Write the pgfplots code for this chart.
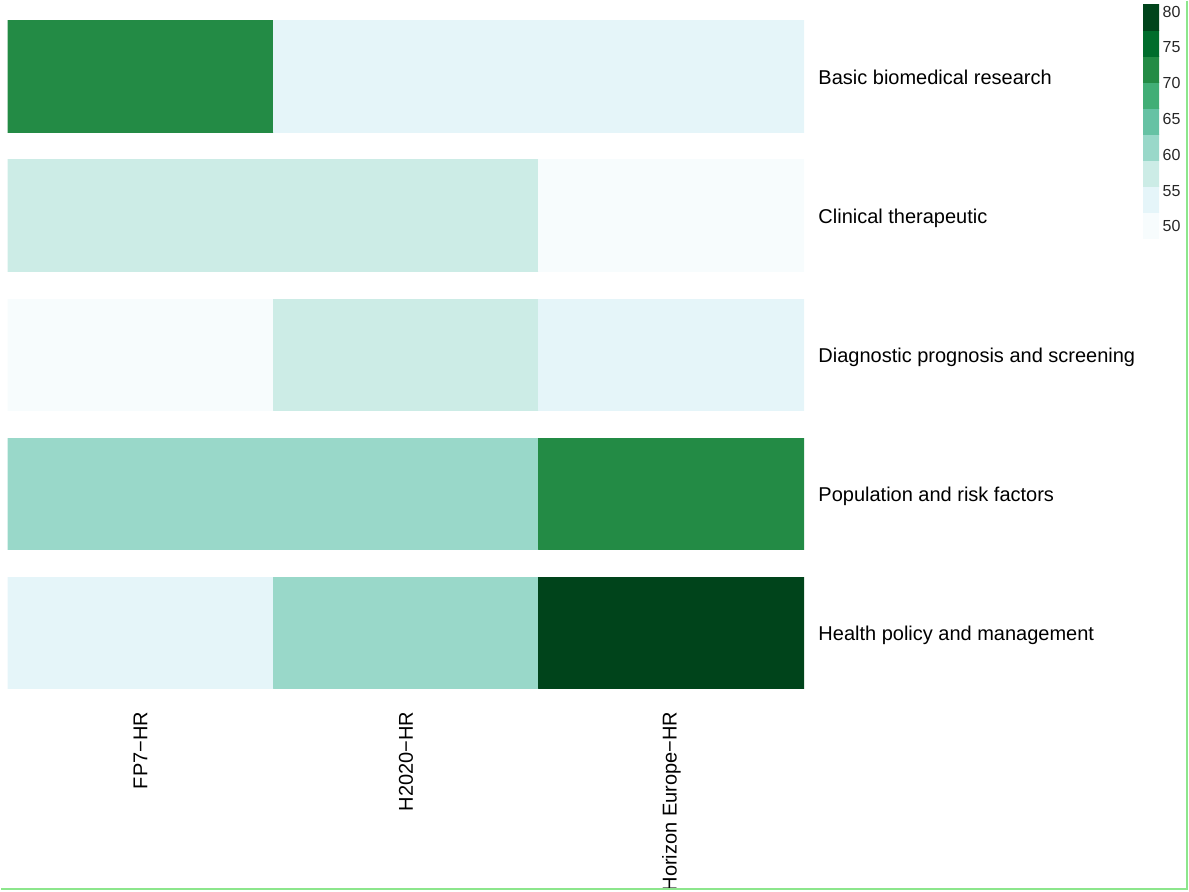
\documentclass[border=0pt]{standalone}
\usepackage{pgfplots}
\pgfplotsset{compat=1.18}
\usepackage{fontspec}
\setmainfont{Liberation Sans}
\pgfplotsset{
  colormap={bugn}{rgb255=(247,252,253) rgb255=(229,245,249) rgb255=(204,236,230) rgb255=(153,216,201) rgb255=(102,194,164) rgb255=(65,174,118) rgb255=(35,139,69) rgb255=(0,109,44) rgb255=(0,68,27)},
}
\begin{document}
\begin{tikzpicture}
\begin{axis}[name=main,
  width=597.75pt, height=501pt, scale only axis,
  xmin=0, xmax=3, ymin=0.1, ymax=4.9, y dir=reverse,
  axis line style={draw=none}, major tick length=0pt,
  xtick={0.5,1.5,2.5},
  xticklabels={FP7−HR, H2020−HR, Horizon Europe−HR},
  ytick={0.5,1.5,2.5,3.5,4.5},
  yticklabels={Basic biomedical research, Clinical therapeutic, Diagnostic prognosis and screening, Population and risk factors, Health policy and management},
  yticklabel pos=right,
  tick label style={font=\fontsize{15}{17}\selectfont, text=black},
  xticklabel style={rotate=90, anchor=east, inner sep=0pt},
  yticklabel style={anchor=west, inner sep=0pt, text height=10.9pt, text depth=0pt, yshift=-0.8pt},
  xticklabel shift=17.5pt,
  yticklabel shift=10.5pt,
  colormap name=bugn, colormap access=piecewise constant,
  point meta min=48.3, point meta max=81,
]
\addplot[patch, patch type=rectangle, shader=flat, point meta=explicit] table[meta=c] {
x y c
0 0.1 72
1 0.1 72
1 0.9 72
0 0.9 72
1 0.1 54
2 0.1 54
2 0.9 54
1 0.9 54
2 0.1 54
3 0.1 54
3 0.9 54
2 0.9 54
0 1.1 57
1 1.1 57
1 1.9 57
0 1.9 57
1 1.1 57
2 1.1 57
2 1.9 57
1 1.9 57
2 1.1 50
3 1.1 50
3 1.9 50
2 1.9 50
0 2.1 50
1 2.1 50
1 2.9 50
0 2.9 50
1 2.1 57
2 2.1 57
2 2.9 57
1 2.9 57
2 2.1 54
3 2.1 54
3 2.9 54
2 2.9 54
0 3.1 61
1 3.1 61
1 3.9 61
0 3.9 61
1 3.1 61
2 3.1 61
2 3.9 61
1 3.9 61
2 3.1 72
3 3.1 72
3 3.9 72
2 3.9 72
0 4.1 54
1 4.1 54
1 4.9 54
0 4.9 54
1 4.1 61
2 4.1 61
2 4.9 61
1 4.9 61
2 4.1 80
3 4.1 80
3 4.9 80
2 4.9 80
};
\end{axis}
\begin{axis}[name=cb,
  at={(main.north east)}, anchor=north west, xshift=254.25pt, yshift=12pt,
  width=12pt, height=175.5pt, scale only axis,
  xmin=0, xmax=1, ymin=48.3, ymax=81,
  xtick=\empty, ytick={50,55,...,80},
  yticklabel pos=right,
  axis line style={draw=none}, major tick length=0pt,
  yticklabel style={font=\fontsize{12}{14}\selectfont, text=black!85, anchor=west, inner sep=0pt},
  yticklabel shift=2.5pt,
  /pgf/number format/assume math mode=true,
  colormap name=bugn, colormap access=piecewise constant,
  point meta min=48.3, point meta max=81,
]
\addplot[patch, patch type=rectangle, shader=flat, point meta=explicit] table[meta=c] {
x y c
0 48.3 50.12
1 48.3 50.12
1 51.933 50.12
0 51.933 50.12
0 51.933 53.75
1 51.933 53.75
1 55.567 53.75
0 55.567 53.75
0 55.567 57.38
1 55.567 57.38
1 59.2 57.38
0 59.2 57.38
0 59.2 61.02
1 59.2 61.02
1 62.833 61.02
0 62.833 61.02
0 62.833 64.65
1 62.833 64.65
1 66.467 64.65
0 66.467 64.65
0 66.467 68.28
1 66.467 68.28
1 70.1 68.28
0 70.1 68.28
0 70.1 71.92
1 70.1 71.92
1 73.733 71.92
0 73.733 71.92
0 73.733 75.55
1 73.733 75.55
1 77.367 75.55
0 77.367 75.55
0 77.367 79.18
1 77.367 79.18
1 81 79.18
0 81 79.18
};
\end{axis}
\pgfresetboundingbox
\path ([xshift=-5.25pt,yshift=-152.25pt]main.south west) rectangle ([xshift=886.5pt,yshift=516pt]main.south west);
\draw[line width=1pt, color={rgb,255:red,140;green,230;blue,140}] ([xshift=885pt,yshift=516pt]main.south west) -- ([xshift=885pt,yshift=-150.75pt]main.south west) -- ([xshift=-5.25pt,yshift=-150.75pt]main.south west);
\end{tikzpicture}
\end{document}
